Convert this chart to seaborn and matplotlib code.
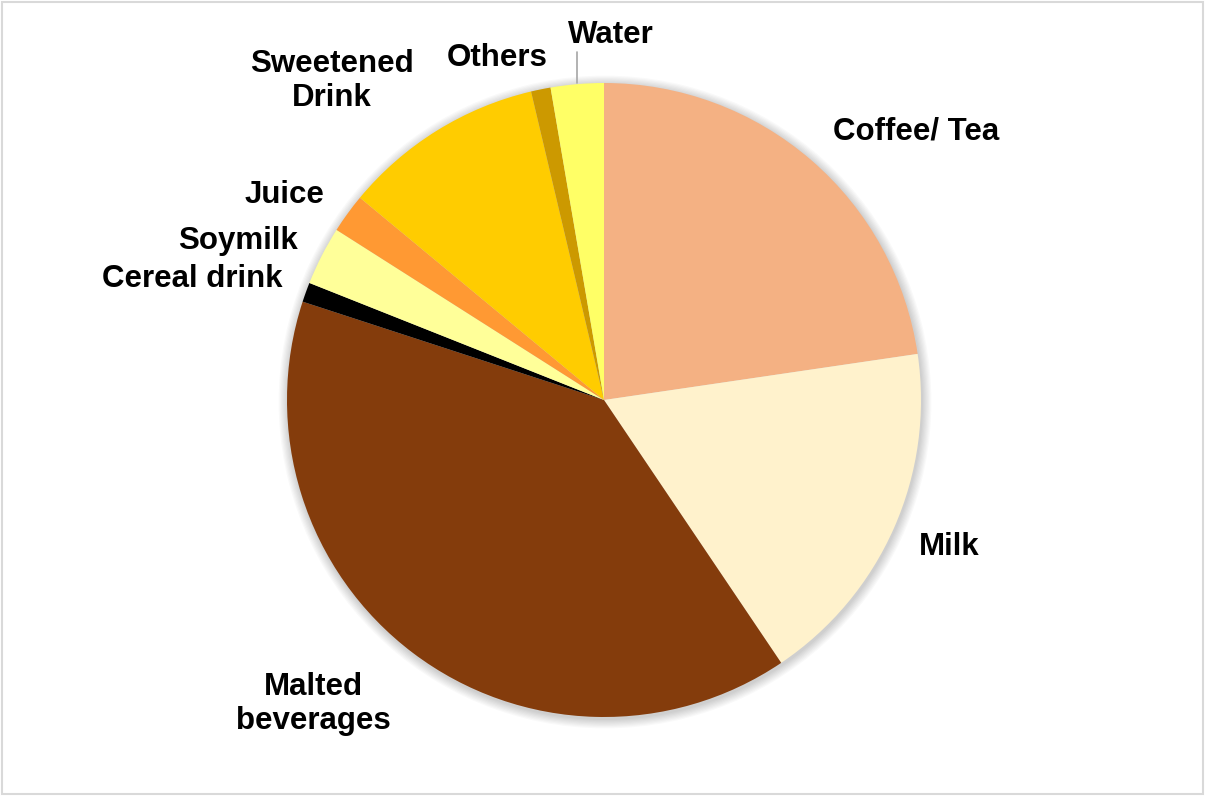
import matplotlib
matplotlib.use("Agg")
import matplotlib.pyplot as plt
import seaborn as sns
from matplotlib.patches import Circle, Rectangle

# Share of breakfast beverages (%), clockwise from 12 o'clock
categories = ["Coffee/ Tea", "Milk", "Malted\nbeverages", "Cereal drink",
              "Soymilk", "Juice", "Sweetened\nDrink", "Others", "Water"]
shares = [22.7, 17.9, 39.5, 1.0, 3.0, 2.0, 10.3, 1.0, 2.7]
colors = ["#F4B183", "#FFF2CC", "#843C0C", "#000000",
          "#FFFF99", "#FF9933", "#FFCC00", "#CC9900", "#FFFF66"]

# Label anchor points (figure pixels, y measured from the top)
label_pos = {
    "Coffee/ Tea": (916, 131, "center"),
    "Milk": (949, 547, "center"),
    "Malted\nbeverages": (313, 704, "center"),
    "Cereal drink": (283, 279, "right"),
    "Soymilk": (298, 241, "right"),
    "Juice": (324, 195, "right"),
    "Sweetened\nDrink": (332, 81, "center"),
    "Others": (497, 58, "center"),
    "Water": (611, 35, "center"),
}

sns.set_theme(style="white")
plt.rcParams["font.family"] = ["Liberation Sans", "DejaVu Sans"]

W, H = 1205, 796
fig = plt.figure(figsize=(W / 100, H / 100), dpi=100)
ax = fig.add_axes([0, 0, 1, 1])

cx, cy, r = 604, H - 400, 317

# soft drop shadow behind the pie
for i in range(8):
    ax.add_patch(Circle((cx + 1, cy - 2), r + 1 + i * 1.2, color="black",
                        alpha=0.025, lw=0, zorder=0))

ax.pie(shares, colors=colors, startangle=90, counterclock=False,
       center=(cx, cy), radius=r, frame=True,
       wedgeprops=dict(linewidth=0))
ax.set_xlim(0, W)
ax.set_ylim(0, H)
ax.set_aspect("equal")
ax.set_axis_off()

for name in categories:
    x, y, ha = label_pos[name]
    ax.text(x, H - y, name, ha=ha, va="center", fontsize=22.5,
            fontweight="bold", color="black", linespacing=1.14, zorder=5)

# leader line for the small "Water" slice
ax.plot([577, 577], [H - 52, H - 83], color="#A6A6A6", lw=1.2, zorder=4)

# chart border
ax.add_patch(Rectangle((2, 2), W - 4, H - 4, fill=False,
                       edgecolor="#D9D9D9", lw=1.5, zorder=6))

fig.savefig("out.png", dpi=100)
